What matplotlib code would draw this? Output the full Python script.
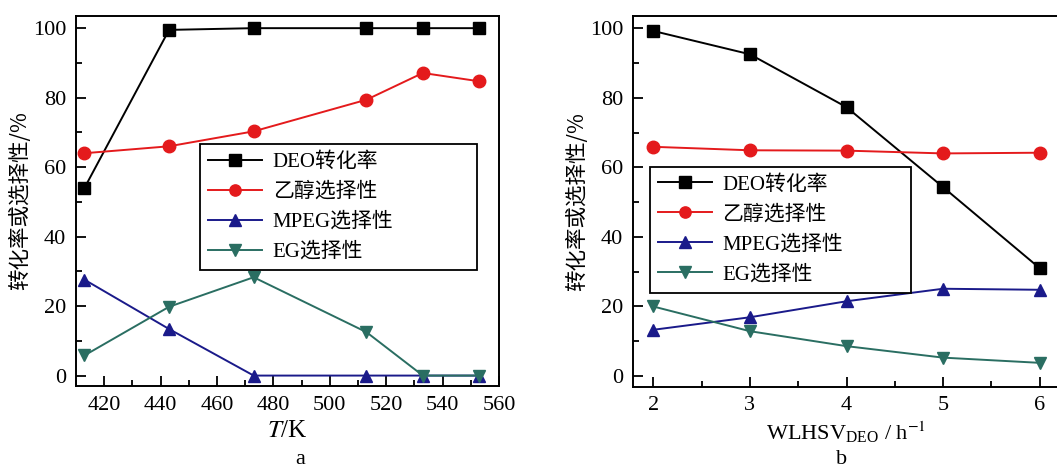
import matplotlib
matplotlib.use("Agg")
import matplotlib.pyplot as plt
from matplotlib.ticker import MultipleLocator

plt.rcParams['font.family'] = ['Liberation Serif', 'Noto Sans CJK SC']
plt.rcParams['mathtext.fontset'] = 'stix'

series_names = ['DEO转化率', '乙醇选择性', 'MPEG选择性', 'EG选择性']
colors = ['#000000', '#e41a1c', '#1a1a8a', '#2a6e62']
markers = ['s', 'o', '^', 'v']

# Panel a: temperature
T = [413, 443, 473, 513, 533, 553]
a_deo = [54, 99.5, 100, 100, 100, 100]
a_eth = [64, 66, 70.3, 79.4, 87.1, 84.7]
a_mpeg = [27.6, 13.4, 0, 0, 0, 0]
a_eg = [5.8, 19.8, 28.3, 12.5, 0, 0]

# Panel b: WLHSV
W = [2, 3, 4, 5, 6]
b_deo = [99.2, 92.5, 77.3, 54.3, 31.0]
b_eth = [65.9, 64.9, 64.8, 64.0, 64.2]
b_mpeg = [13.3, 16.9, 21.5, 25.1, 24.8]
b_eg = [20.0, 12.9, 8.6, 5.3, 3.8]

fig = plt.figure(figsize=(10.57, 4.68), dpi=100)
W_px, H_px = 1057, 468
axA = fig.add_axes([76 / W_px, 1 - 386 / H_px, (499 - 76) / W_px, (386 - 16) / H_px])
axB = fig.add_axes([633 / W_px, 1 - 386.5 / H_px, (1060 - 633) / W_px, (386.5 - 16) / H_px])

FS = 16

def style(ax):
    ax.tick_params(which='both', direction='in', top=False, right=False, labelsize=FS, pad=7)
    ax.tick_params(which='major', length=7, width=1.3)
    ax.tick_params(which='minor', length=4, width=1.3)
    ax.yaxis.set_major_locator(MultipleLocator(20))
    ax.yaxis.set_minor_locator(MultipleLocator(10))
    for s in ax.spines.values():
        s.set_linewidth(1.4)
    ax.set_ylim(-3, 103.5)
    ax.set_ylabel('转化率或选择性/%', fontsize=15.5, family=['Noto Sans CJK SC'], labelpad=1)

def plot_all(ax, x, ys):
    for y, c, m, n in zip(ys, colors, markers, series_names):
        ax.plot(x, y, color=c, marker=m, markersize=9, linewidth=1.4,
                markeredgecolor=c, markerfacecolor=c, label=n)

def add_legend(ax, x0, y1, w):
    leg = ax.legend(loc='upper left', bbox_to_anchor=(x0, y1, w, 0), mode='expand',
                    frameon=True, fancybox=False, edgecolor='black', framealpha=1,
                    handlelength=2.6, handletextpad=0.5, markerscale=0.9,
                    borderpad=0.4, labelspacing=0.5, borderaxespad=0,
                    prop={'family': ['Liberation Serif', 'Noto Sans CJK SC'], 'size': 15})
    leg.get_frame().set_linewidth(1.3)

plot_all(axA, T, [a_deo, a_eth, a_mpeg, a_eg])
style(axA)
axA.set_xlim(410, 560)
axA.xaxis.set_major_locator(MultipleLocator(20))
axA.xaxis.set_minor_locator(MultipleLocator(10))
axA.set_xlabel('$T$/K', fontsize=18, labelpad=4)
add_legend(axA, 0.293, 0.654, 0.655)
fig.text((76 + 499) / 2 / W_px + 0.012, 1 - 459 / H_px, 'a', ha='center', va='center', fontsize=16)

plot_all(axB, W, [b_deo, b_eth, b_mpeg, b_eg])
style(axB)
axB.set_xlim(1.79, 6.21)
axB.xaxis.set_major_locator(MultipleLocator(1))
axB.xaxis.set_minor_locator(MultipleLocator(0.5))
axB.set_xlabel('WLHSV$_\\mathregular{DEO}$ / h$^{-1}$', fontsize=16, labelpad=3)
add_legend(axB, 0.039, 0.593, 0.612)
fig.text((633 + 1060) / 2 / W_px - 0.005, 1 - 459 / H_px, 'b', ha='center', va='center', fontsize=16)

fig.savefig('out.png', dpi=100)
